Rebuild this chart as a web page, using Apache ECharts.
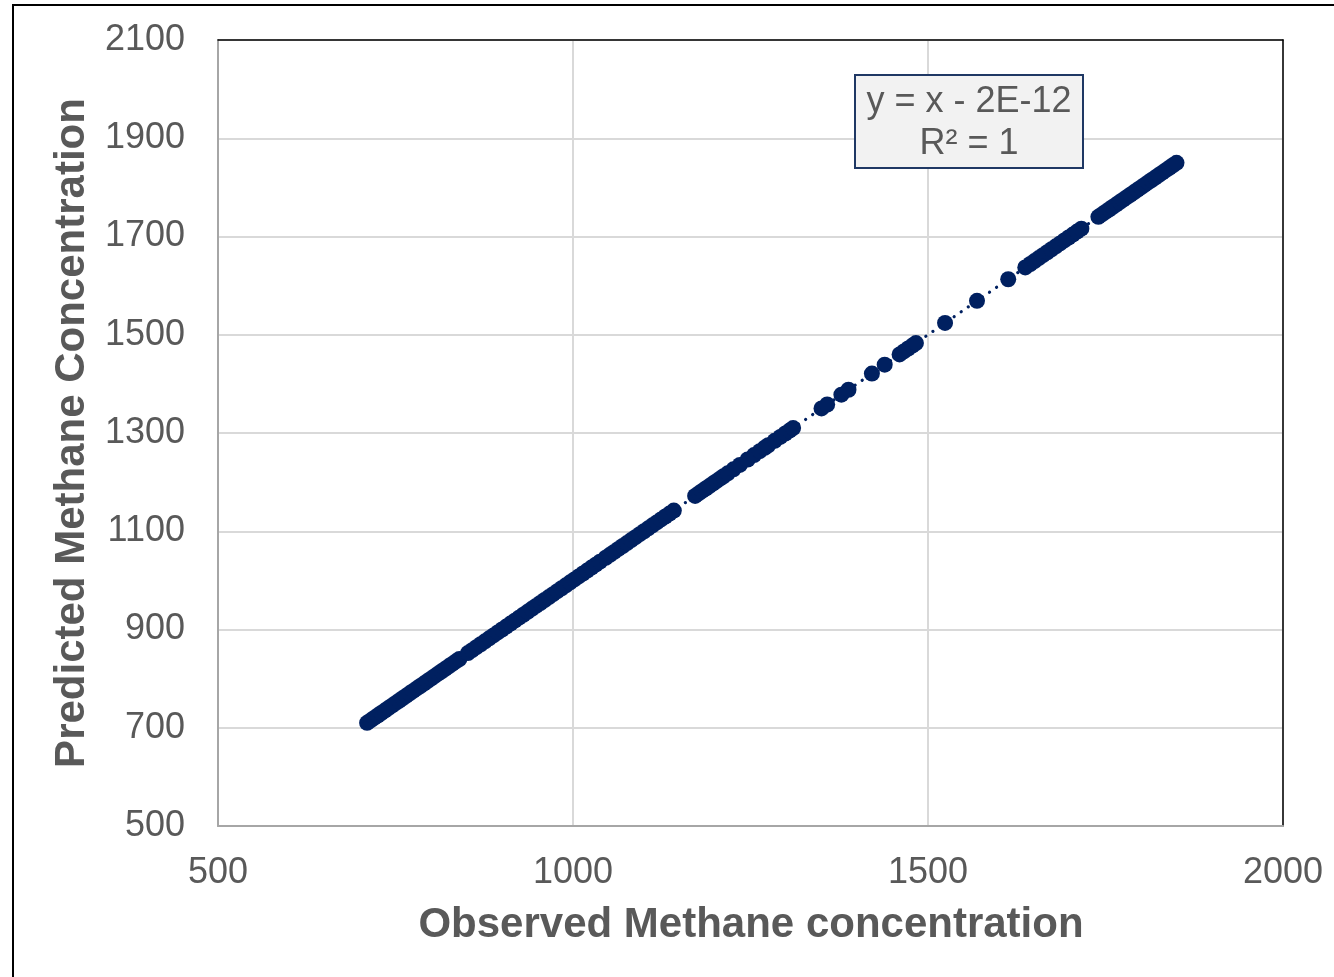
<!DOCTYPE html>
<html>
<head>
<meta charset="utf-8">
<script src="https://cdn.jsdelivr.net/npm/echarts@6/dist/echarts.min.js"></script>
<style>
  html, body { margin: 0; padding: 0; background: #ffffff; }
  #chart { width: 1334px; height: 977px; }
</style>
</head>
<body>
<div id="chart"></div>
<script>
// Observed methane concentration (x)
const observed = [
  710, 715, 720, 725, 730, 735, 740, 745, 750, 755, 760, 765, 770, 775, 780, 785, 790, 795, 800, 805, 810, 815, 820, 825, 830, 835, 840,
  852, 858, 864, 870, 876, 882, 888, 894, 900, 906, 912, 918, 924, 930, 936, 942, 948, 954, 960, 966, 972, 978, 984, 990, 996,
  1002, 1008, 1014, 1020, 1026, 1032, 1038, 1046, 1052, 1058, 1064, 1070, 1076, 1082, 1088, 1094, 1100, 1106, 1112, 1118, 1124, 1130, 1136, 1142,
  1172, 1177, 1182, 1187, 1192, 1197, 1202, 1207, 1212, 1218, 1226, 1235, 1246, 1255, 1263, 1270, 1275, 1284, 1292, 1299, 1305, 1310,
  1350, 1358, 1378, 1388, 1421, 1439, 1460, 1466, 1472, 1478, 1483,
  1524, 1569, 1613, 1637, 1644, 1650, 1656, 1662, 1668, 1674, 1680, 1686, 1692, 1698, 1704, 1710, 1716,
  1740, 1745, 1750, 1755, 1760, 1765, 1770, 1775, 1780, 1785, 1790, 1795, 1800, 1805, 1810, 1815, 1820, 1825, 1830, 1835, 1840, 1845, 1850
];
// Predicted methane concentration (y)
const predicted = [
  710, 715, 720, 725, 730, 735, 740, 745, 750, 755, 760, 765, 770, 775, 780, 785, 790, 795, 800, 805, 810, 815, 820, 825, 830, 835, 840,
  852, 858, 864, 870, 876, 882, 888, 894, 900, 906, 912, 918, 924, 930, 936, 942, 948, 954, 960, 966, 972, 978, 984, 990, 996,
  1002, 1008, 1014, 1020, 1026, 1032, 1038, 1046, 1052, 1058, 1064, 1070, 1076, 1082, 1088, 1094, 1100, 1106, 1112, 1118, 1124, 1130, 1136, 1142,
  1172, 1177, 1182, 1187, 1192, 1197, 1202, 1207, 1212, 1218, 1226, 1235, 1246, 1255, 1263, 1270, 1275, 1284, 1292, 1299, 1305, 1310,
  1350, 1358, 1378, 1388, 1421, 1439, 1460, 1466, 1472, 1478, 1483,
  1524, 1569, 1613, 1637, 1644, 1650, 1656, 1662, 1668, 1674, 1680, 1686, 1692, 1698, 1704, 1710, 1716,
  1740, 1745, 1750, 1755, 1760, 1765, 1770, 1775, 1780, 1785, 1790, 1795, 1800, 1805, 1810, 1815, 1820, 1825, 1830, 1835, 1840, 1845, 1850
];
// Linear trendline end points (y = x - 2E-12)
const trendX = [710, 1850];
const trendY = [710, 1850];
const equationLines = ['y = x - 2E-12', 'R² = 1'];
const xTitle = 'Observed Methane concentration';
const yTitle = 'Predicted Methane Concentration';

const points = observed.map((v, i) => [v, predicted[i]]);
const trend = trendX.map((v, i) => [v, trendY[i]]);

const chart = echarts.init(document.getElementById('chart'), null, { renderer: 'canvas' });
const FONT = '"Liberation Sans", Arial, sans-serif';
const GRAY = '#595959';
const NAVY = '#002060';
const plain = v => String(v);

chart.setOption({
  backgroundColor: '#ffffff',
  animation: false,
  grid: { left: 218, right: 51, top: 40, bottom: 151, containLabel: false, outerBoundsMode: 'none' },
  xAxis: [{
    type: 'value', min: 500, max: 2000, interval: 500,
    axisLine: { show: true, onZero: false, lineStyle: { color: '#a6a6a6', width: 2 } },
    axisTick: { show: false },
    axisLabel: { color: GRAY, fontSize: 36, fontFamily: FONT, margin: 29, formatter: plain },
    splitLine: { show: true, lineStyle: { color: '#d9d9d9', width: 2 } }
  }, {
    type: 'value', position: 'top', min: 500, max: 2000, interval: 500,
    axisLine: { show: true, onZero: false, lineStyle: { color: '#000000', width: 1.5 } },
    axisTick: { show: false }, axisLabel: { show: false }, splitLine: { show: false }
  }],
  yAxis: [{
    type: 'value', min: 500, max: 2100, interval: 200,
    axisLine: { show: true, onZero: false, lineStyle: { color: '#a6a6a6', width: 2 } },
    axisTick: { show: false },
    axisLabel: { color: GRAY, fontSize: 36, fontFamily: FONT, margin: 33, formatter: plain },
    splitLine: { show: true, lineStyle: { color: '#d9d9d9', width: 2 } }
  }, {
    type: 'value', position: 'right', min: 500, max: 2100, interval: 200,
    axisLine: { show: true, onZero: false, lineStyle: { color: '#000000', width: 1.5 } },
    axisTick: { show: false }, axisLabel: { show: false }, splitLine: { show: false }
  }],
  graphic: [
    {
      type: 'rect', z: 100, silent: true,
      shape: { x: 13, y: 5, width: 1400, height: 1100 },
      style: { fill: 'none', stroke: '#000000', lineWidth: 2 }
    },
    {
      type: 'text', z: 100, x: 751, y: 925,
      style: { text: xTitle, font: 'bold 42px ' + FONT, fill: GRAY, textAlign: 'center', textVerticalAlign: 'middle' }
    },
    {
      type: 'text', z: 100, x: 72, y: 433, rotation: Math.PI / 2,
      style: { text: yTitle, font: 'bold 42px ' + FONT, fill: GRAY, textAlign: 'center', textVerticalAlign: 'middle' }
    },
    {
      type: 'rect', z: 100, shape: { x: 855, y: 75, width: 228, height: 93 },
      style: { fill: '#f2f2f2', stroke: '#1f3864', lineWidth: 2 }
    },
    {
      type: 'text', z: 101, x: 969, y: 102,
      style: { text: equationLines[0], font: '36px ' + FONT, fill: GRAY, textAlign: 'center', textVerticalAlign: 'middle' }
    },
    {
      type: 'text', z: 101, x: 969, y: 144,
      style: { text: equationLines[1], font: '36px ' + FONT, fill: GRAY, textAlign: 'center', textVerticalAlign: 'middle' }
    }
  ],
  series: [
    {
      type: 'line', data: trend, xAxisIndex: 0, yAxisIndex: 0, z: 1,
      showSymbol: false, symbol: 'none', silent: true,
      lineStyle: { color: NAVY, width: 3.2, type: [0.1, 8.5], cap: 'round' }
    },
    {
      type: 'scatter', data: points, xAxisIndex: 0, yAxisIndex: 0, z: 2,
      symbol: 'circle', symbolSize: 16,
      itemStyle: { color: NAVY, opacity: 1 }
    }
  ]
});
</script>
</body>
</html>
